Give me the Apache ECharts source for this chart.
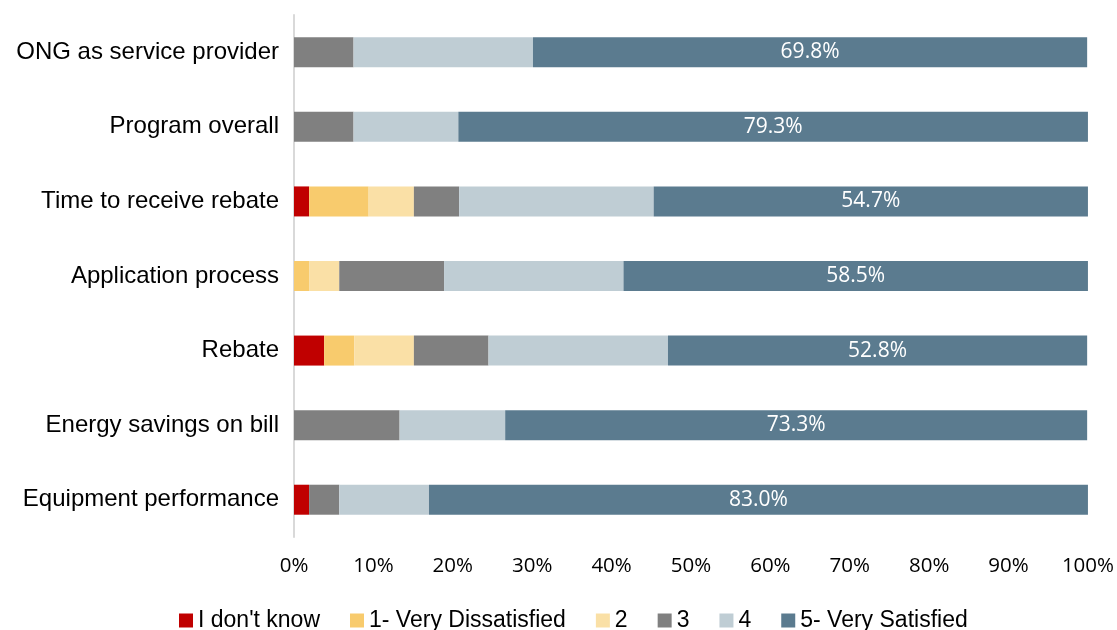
<!DOCTYPE html>
<html>
<head>
<meta charset="utf-8">
<script src="https://cdn.jsdelivr.net/npm/echarts@6/dist/echarts.min.js"></script>
<style>html,body{margin:0;padding:0;background:#fff;}#chart{width:1117px;height:630px;}</style>
</head>
<body>
<div id="chart"></div>
<script>
const categories = ["ONG as service provider","Program overall","Time to receive rebate","Application process","Rebate","Energy savings on bill","Equipment performance"];
const seriesNames = ["I don't know","1- Very Dissatisfied","2","3","4","5- Very Satisfied"];
const dontKnow = [0, 0, 1.9, 0, 3.8, 0, 1.9];
const veryDissatisfied = [0, 0, 7.5, 1.9, 3.8, 0, 0];
const two = [0, 0, 5.7, 3.8, 7.5, 0, 0];
const three = [7.5, 7.5, 5.7, 13.2, 9.4, 13.3, 3.8];
const four = [22.6, 13.2, 24.5, 22.6, 22.6, 13.3, 11.3];
const verySatisfied = [69.8, 79.3, 54.7, 58.5, 52.8, 73.3, 83.0];
const xTicks = [0,10,20,30,40,50,60,70,80,90,100];

const colors = ["#C00000","#F8CB6D","#FAE0A6","#808080","#BFCDD4","#5B7B8F"];
const allData = [dontKnow, veryDissatisfied, two, three, four, verySatisfied];

const chart = echarts.init(document.getElementById('chart'));
chart.setOption({
  animation: false,
  color: colors,
  grid: {left: 294, right: 28, top: 15, bottom: 93, containLabel: false},
  legend: {
    top: 604,
    left: 174,
    itemWidth: 14, itemHeight: 14, itemGap: 30,
    icon: 'rect',
    textStyle: {fontFamily: "'Liberation Sans',Arial,sans-serif", fontSize: 23, color: '#000'},
    data: seriesNames
  },
  xAxis: {
    type: 'value', min: 0, max: 100, interval: 10,
    axisLine: {show: false}, axisTick: {show: false}, splitLine: {show: false},
    axisLabel: {formatter: v => v + '%', fontSize: 20.5, color: '#000', fontFamily: "'Open Sans',sans-serif", margin: 19}
  },
  yAxis: {
    type: 'category', data: categories, inverse: true,
    axisLine: {show: true, lineStyle: {color: '#D9D9D9', width: 2}},
    axisTick: {show: false},
    axisLabel: {fontSize: 24, color: '#000', fontFamily: "'Liberation Sans',Arial,sans-serif", margin: 15}
  },
  series: seriesNames.map((name, i) => ({
    name: name,
    type: 'bar',
    stack: 'total',
    barWidth: 30,
    data: allData[i],
    itemStyle: {color: colors[i]},
    label: i === 5 ? {show: true, position: 'inside', color: '#fff', fontSize: 21, fontFamily: "'Open Sans',sans-serif", formatter: p => p.value.toFixed(1) + '%'} : {show: false}
  }))
});
</script>
</body>
</html>
